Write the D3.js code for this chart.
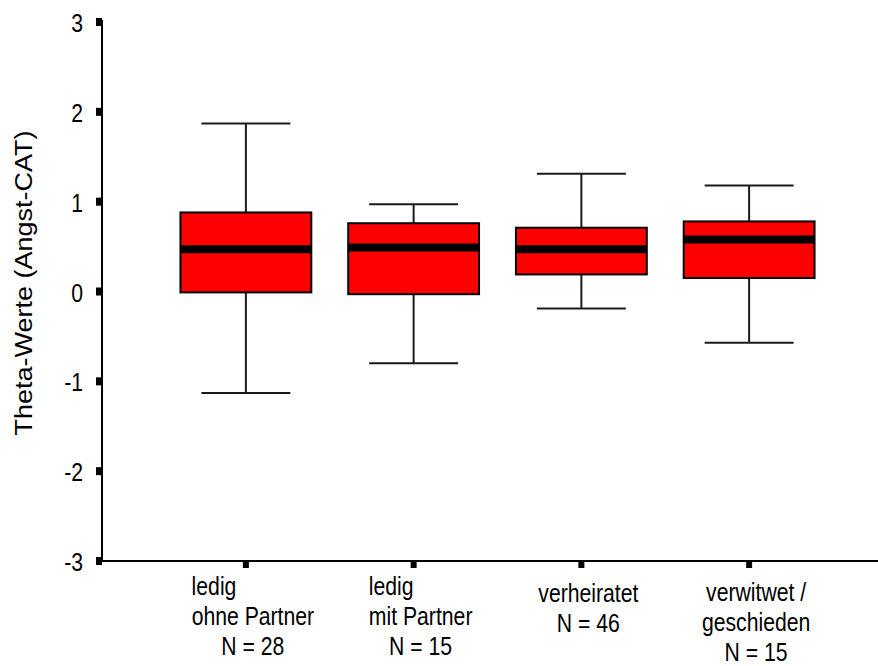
<!DOCTYPE html>
<html>
<head>
<meta charset="utf-8">
<script src="https://cdn.jsdelivr.net/npm/d3@7"></script>
<style>
  html, body { margin: 0; padding: 0; background: #ffffff; }
  svg { display: block; }
  text { font-family: "Liberation Sans", Arial, sans-serif; fill: #000; }
</style>
</head>
<body>
<script>
// ---- data ----
const categories = [
  ["ledig", "ohne Partner", "N = 28"],
  ["ledig", "mit Partner", "N = 15"],
  ["verheiratet", "N = 46"],
  ["verwitwet /", "geschieden", "N = 15"]
];
const lowerWhisker = [-1.13, -0.80, -0.19, -0.57];
const q1Values     = [-0.01, -0.03, 0.19, 0.15];
const medianValues = [0.47, 0.49, 0.47, 0.58];
const q3Values     = [0.88, 0.76, 0.71, 0.78];
const upperWhisker = [1.87, 0.97, 1.31, 1.18];
const yTicks = [-3, -2, -1, 0, 1, 2, 3];
const yLabel = "Theta-Werte (Angst-CAT)";

// ---- layout ----
const W = 878, H = 666;
const svg = d3.select("body").append("svg").attr("width", W).attr("height", H);
svg.append("rect").attr("width", W).attr("height", H).attr("fill", "#fff");

const axisX = 102, plotTop = 22, plotBottom = 561;
const y = d3.scaleLinear().domain([-3, 3]).range([plotBottom, plotTop]);
const ids = categories.map((d, i) => i);
const x = d3.scaleBand().domain(ids).range([162, 833]).padding(0);
const boxW = x.bandwidth() * 0.78;
const capW = boxW * 0.68;
const cx = i => x(i) + x.bandwidth() / 2;

const FS = 26.5, SX = 0.8; // condensed text look

// y axis
svg.append("line").attr("x1", axisX).attr("x2", axisX)
  .attr("y1", y(3) - 2).attr("y2", plotBottom + 1)
  .attr("stroke", "#000").attr("stroke-width", 2);
svg.selectAll(".ytick").data(yTicks).enter().append("rect")
  .attr("x", axisX - 6).attr("y", d => y(d) - 4)
  .attr("width", 6).attr("height", 8).attr("fill", "#000");
svg.selectAll(".ylab").data(yTicks).enter().append("text")
  .attr("text-anchor", "end")
  .attr("transform", d => `translate(83,${y(d) + 10}) scale(${SX},1)`)
  .attr("font-size", FS)
  .text(d => d);

// y title (rotated)
svg.append("text")
  .attr("text-anchor", "middle")
  .attr("transform", `translate(32,283) rotate(-90) scale(1,0.86)`)
  .attr("font-size", 27)
  .text(yLabel);

// x axis
svg.append("line").attr("x1", axisX).attr("x2", W)
  .attr("y1", plotBottom).attr("y2", plotBottom)
  .attr("stroke", "#000").attr("stroke-width", 2);
svg.selectAll(".xtick").data(ids).enter().append("rect")
  .attr("x", d => cx(d) - 3).attr("y", plotBottom)
  .attr("width", 6).attr("height", 7).attr("fill", "#000");

// category labels
const firstBase = [595, 595, 602, 601];
const firstAlign = ["start", "start", "middle", "middle"];
const lineH = 30;
ids.forEach(i => {
  const lines = categories[i];
  const g = svg.append("g");
  const texts = lines.map((t, k) => g.append("text")
    .attr("font-size", FS)
    .attr("text-anchor", "middle")
    .attr("transform", `translate(${cx(i) + 7},${firstBase[i] + k * lineH}) scale(${SX},1)`)
    .text(t));
  if (firstAlign[i] === "start" && texts.length > 1) {
    const w2 = texts[1].node().getComputedTextLength() * SX;
    texts[0].attr("text-anchor", "start")
      .attr("transform", `translate(${cx(i) + 7 - w2 / 2},${firstBase[i]}) scale(${SX},1)`);
  }
});

// boxes
const boxes = svg.selectAll(".box").data(ids).enter().append("g");
boxes.append("line")
  .attr("x1", cx).attr("x2", cx)
  .attr("y1", i => y(upperWhisker[i])).attr("y2", i => y(q3Values[i]))
  .attr("stroke", "#1a1a1a").attr("stroke-width", 2);
boxes.append("line")
  .attr("x1", cx).attr("x2", cx)
  .attr("y1", i => y(q1Values[i])).attr("y2", i => y(lowerWhisker[i]))
  .attr("stroke", "#1a1a1a").attr("stroke-width", 2);
boxes.append("line")
  .attr("x1", i => cx(i) - capW / 2).attr("x2", i => cx(i) + capW / 2)
  .attr("y1", i => y(upperWhisker[i])).attr("y2", i => y(upperWhisker[i]))
  .attr("stroke", "#1a1a1a").attr("stroke-width", 2);
boxes.append("line")
  .attr("x1", i => cx(i) - capW / 2).attr("x2", i => cx(i) + capW / 2)
  .attr("y1", i => y(lowerWhisker[i])).attr("y2", i => y(lowerWhisker[i]))
  .attr("stroke", "#1a1a1a").attr("stroke-width", 2);
boxes.append("rect")
  .attr("x", i => cx(i) - boxW / 2).attr("width", boxW)
  .attr("y", i => y(q3Values[i]))
  .attr("height", i => y(q1Values[i]) - y(q3Values[i]))
  .attr("fill", "#ff0000").attr("stroke", "#000").attr("stroke-width", 2);
boxes.append("line")
  .attr("x1", i => cx(i) - boxW / 2).attr("x2", i => cx(i) + boxW / 2)
  .attr("y1", i => y(medianValues[i])).attr("y2", i => y(medianValues[i]))
  .attr("stroke", "#000").attr("stroke-width", 8);
</script>
</body>
</html>
